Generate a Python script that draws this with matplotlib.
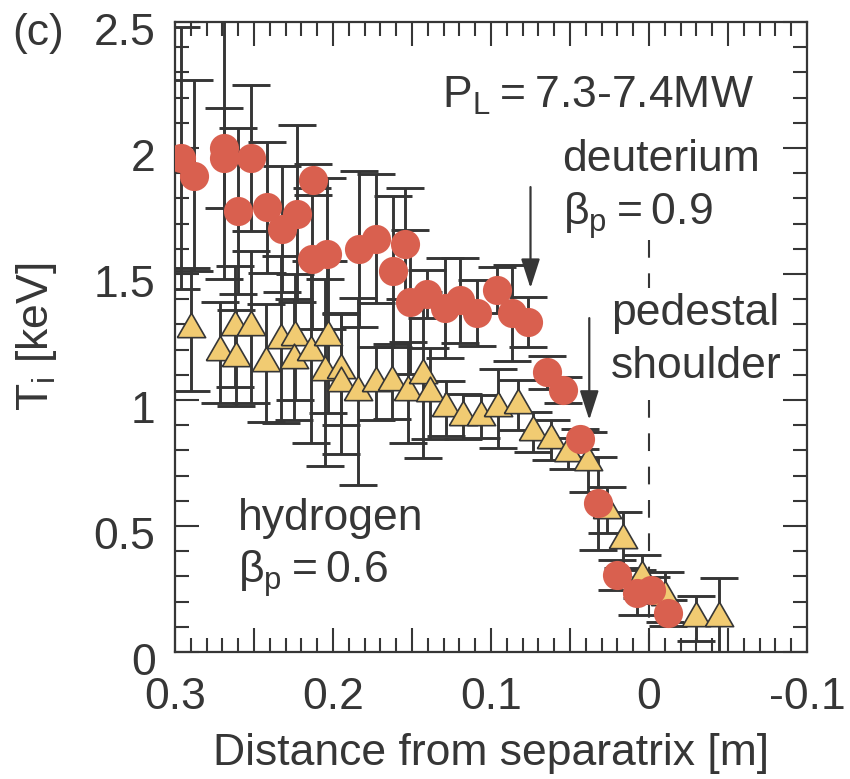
import numpy as np
import matplotlib
matplotlib.use("Agg")
import matplotlib.pyplot as plt
from matplotlib.ticker import MultipleLocator, FuncFormatter
from matplotlib.transforms import ScaledTranslation

# deuterium (red circles): distance from separatrix [m], Ti [keV], error
d_x = [0.296, 0.288, 0.269, 0.269, 0.252, 0.260, 0.242, 0.2325, 0.223, 0.2125,
       0.2135, 0.204, 0.1835, 0.1728, 0.1544, 0.162, 0.1513, 0.1407, 0.1291, 0.1196,
       0.1091, 0.0964, 0.0865, 0.0764, 0.0648, 0.0542, 0.0437, 0.0323, 0.0203, 0.0076,
       -0.0013, -0.012]
d_y = [1.96, 1.89, 2.00, 1.96, 1.96, 1.75, 1.765, 1.68, 1.74, 1.875,
       1.56, 1.58, 1.60, 1.64, 1.62, 1.51, 1.39, 1.42, 1.365, 1.395,
       1.345, 1.437, 1.345, 1.31, 1.11, 1.04, 0.845, 0.59, 0.305, 0.235,
       0.246, 0.155]
d_err = [0.52, 0.38, 0.52, 0.20, 0.29, 0.33, 0.26, 0.25, 0.35, 0.06,
         0.28, 0.30, 0.31, 0.255, 0.22, 0.30, 0.285, 0.095, 0.20, 0.17,
         0.13, 0.09, 0.19, 0.10, 0.066, 0.05, 0.04, 0.185, 0.06, 0.09,
         0.05, 0.05]

# hydrogen (yellow triangles)
h_x = [0.290, 0.2715, 0.262, 0.2614, 0.252, 0.2424, 0.2332, 0.224, 0.225, 0.2139,
       0.203, 0.205, 0.1949, 0.1949, 0.184, 0.173, 0.1625, 0.1523, 0.1432, 0.1387,
       0.1287, 0.1176, 0.1065, 0.0954, 0.0832, 0.0732, 0.0621, 0.051, 0.0384, 0.0266,
       0.0166, 0.0044, -0.010, -0.0296, -0.0445]
h_y = [1.28, 1.19, 1.29, 1.166, 1.29, 1.147, 1.24, 1.25, 1.16, 1.19,
       1.25, 1.11, 1.12, 1.066, 1.033, 1.066, 1.073, 1.03, 1.10, 1.026,
       0.967, 0.934, 0.934, 0.967, 0.98, 0.874, 0.841, 0.788, 0.755, 0.563,
       0.444, 0.299, 0.219, 0.134, 0.134]
h_err = [0.245, 0.20, 0.24, 0.19, 0.30, 0.235, 0.33, 0.25, 0.24, 0.36,
         0.30, 0.37, 0.22, 0.28, 0.37, 0.146, 0.15, 0.20, 0.33, 0.18,
         0.11, 0.09, 0.085, 0.157, 0.10, 0.08, 0.08, 0.06, 0.12, 0.09,
         0.11, 0.085, 0.10, 0.09, 0.16]

ink = "#363636"
red = "#d9604f"
yellow = "#f1cb72"

plt.rcParams['font.family'] = ['Liberation Sans', 'DejaVu Sans']
plt.rcParams['mathtext.fontset'] = 'custom'
plt.rcParams['mathtext.rm'] = 'Liberation Sans'
plt.rcParams['mathtext.it'] = 'Liberation Sans'
plt.rcParams['axes.unicode_minus'] = False

fig = plt.figure(figsize=(8.5, 7.79), dpi=100)
ax = fig.add_axes([175/850, 127/779, 632/850, 630/779])

# error bars first, markers on top
ax.errorbar(h_x, h_y, yerr=h_err, fmt='none', ecolor=ink, elinewidth=2.1,
            capsize=13.5, capthick=2.1, zorder=2)
ax.errorbar(d_x, d_y, yerr=d_err, fmt='none', ecolor=ink, elinewidth=2.1,
            capsize=13.5, capthick=2.1, zorder=2)

tri = [(-1, -0.577), (1, -0.577), (0, 1.155), (-1, -0.577)]
ax.plot(h_x, h_y, ls='none', marker=tri, ms=23.5, mfc=yellow, mec=ink,
        mew=1.2, zorder=3)
ax.plot(d_x, d_y, ls='none', marker='o', ms=21, mfc=red, mec=red,
        mew=0, zorder=4)

# separatrix line, broken where the text sits
ax.plot([0, 0], [1.635, 1.444], ls=(0, (8.5, 7.5)), lw=1.5, color=ink, zorder=1)
ax.plot([0, 0], [1.0, 0], ls=(0, (8.5, 7.5)), lw=1.5, color=ink, zorder=1)

arrow = dict(arrowstyle='-|>,head_length=0.9,head_width=0.29', lw=1.6,
             color=ink, mutation_scale=20, shrinkA=0, shrinkB=0)
ax.annotate('', xy=(0.075, 1.444), xytext=(0.075, 1.845), arrowprops=arrow)
ax.annotate('', xy=(0.0378, 0.921), xytext=(0.0378, 1.325), arrowprops=arrow)

fs = 32
ax.text(0.131, 2.159, 'P$_\\mathrm{L}$\u2009=\u20097.3-7.4MW', fontsize=fs,
        color=ink, va='baseline', ha='left')
ax.text(0.0551, 1.909, 'deuterium', fontsize=fs, color=ink, va='baseline')
ax.text(0.0544, 1.694, '$\\beta_\\mathrm{p}$\u2009=\u20090.9', fontsize=fs,
        color=ink, va='baseline')
ax.text(0.0241, 1.298, 'pedestal', fontsize=fs, color=ink, va='baseline')
ax.text(0.0241, 1.087, 'shoulder', fontsize=fs, color=ink, va='baseline')
ax.text(0.2601, 0.484, 'hydrogen', fontsize=fs, color=ink, va='baseline')
ax.text(0.2601, 0.274, '$\\beta_\\mathrm{p}$\u2009=\u20090.6', fontsize=fs,
        color=ink, va='baseline')
fig.text(12/850, 1 - 45/779, '(c)', fontsize=fs, color=ink, va='baseline')

ax.set_xlim(0.3, -0.1)
ax.set_ylim(0, 2.5)

ax.xaxis.set_major_locator(MultipleLocator(0.05))
ax.xaxis.set_minor_locator(MultipleLocator(0.01))
ax.yaxis.set_major_locator(MultipleLocator(0.5))
ax.yaxis.set_minor_locator(MultipleLocator(0.1))


def xfmt(v, pos):
    v = round(v, 3) + 0.0
    if abs(v * 10 - round(v * 10)) > 1e-6:
        return ''
    return '%g' % v


ax.xaxis.set_major_formatter(FuncFormatter(xfmt))
ax.yaxis.set_major_formatter(FuncFormatter(lambda v, p: '%g' % (round(v, 3) + 0.0)))

ax.tick_params(which='both', direction='in', top=True, right=True,
               color=ink, width=1.5, labelsize=fs, labelcolor=ink)
ax.tick_params(which='major', length=17.5)
ax.tick_params(which='minor', length=10)
ax.tick_params(axis='x', which='major', pad=18)
ax.tick_params(axis='y', which='major', pad=14)

for sp in ax.spines.values():
    sp.set_color(ink)
    sp.set_linewidth(1.6)

ax.set_xlabel('Distance from separatrix [m]', fontsize=fs, color=ink)
ax.set_ylabel('T$_\\mathrm{i}$ [keV]', fontsize=fs, color=ink)
ax.xaxis.set_label_coords(0.5, -0.1286)
ax.yaxis.set_label_coords(-0.1835, 0.5)

shift = ScaledTranslation(0, -7/100, fig.dpi_scale_trans)
for lab in ax.get_yticklabels():
    lab.set_transform(lab.get_transform() + shift)

fig.savefig('out.png', dpi=100)
